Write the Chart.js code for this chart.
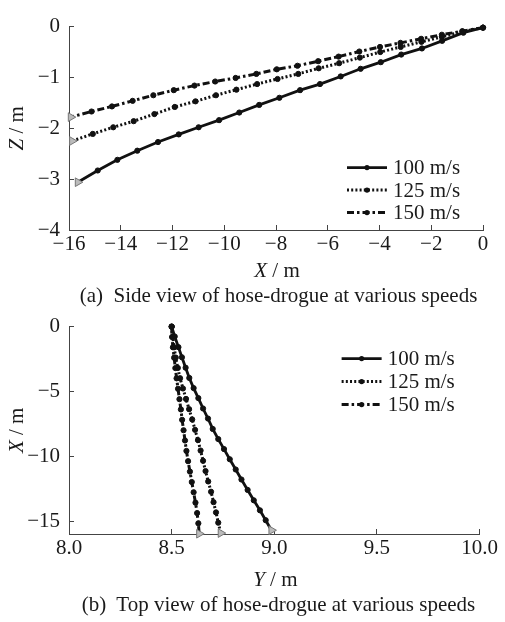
<!DOCTYPE html>
<html>
<head>
<meta charset="utf-8">
<script src="https://cdn.jsdelivr.net/npm/chart.js@4.4.0/dist/chart.umd.min.js"></script>
<style>
body { margin: 0; background: #fff; }
#wrap { position: relative; width: 505px; height: 622px; }
canvas { position: absolute; left: 0; }
.cap { position: absolute; left: 26px; width: 505px; text-align: center; line-height: 21px;
  font-family: 'Liberation Serif', serif; font-size: 21px; color: #1a1a1a; white-space: pre; }
</style>
</head>
<body>
<div id="wrap">
  <canvas id="side" width="505" height="284" style="top:0"></canvas>
  <div class="cap" style="top:285px">(a)  Side view of hose-drogue at various speeds</div>
  <canvas id="topv" width="505" height="292" style="top:300px"></canvas>
  <div class="cap" style="top:594px">(b)  Top view of hose-drogue at various speeds</div>
</div>
<script>
// hose node positions, tanker end first, drogue last
const speeds = ['100 m/s', '125 m/s', '150 m/s']

const x100 = [0, -0.76, -1.58, -2.36, -3.16, -3.95, -4.73, -5.50, -6.30, -7.07, -7.87, -8.65, -9.42, -10.20, -10.99, -11.76, -12.56, -13.36, -14.13, -14.89, -15.66]
const z100 = [-0.02, -0.12, -0.28, -0.43, -0.55, -0.70, -0.83, -0.98, -1.13, -1.25, -1.40, -1.54, -1.69, -1.84, -1.98, -2.12, -2.27, -2.44, -2.62, -2.83, -3.06]
const y100 = [8.500, 8.515, 8.533, 8.550, 8.568, 8.586, 8.607, 8.630, 8.653, 8.677, 8.700, 8.727, 8.755, 8.783, 8.812, 8.840, 8.870, 8.900, 8.930, 8.958, 8.986]

const x125 = [0, -0.79, -1.59, -2.38, -3.18, -3.97, -4.76, -5.56, -6.35, -7.14, -7.94, -8.73, -9.53, -10.32, -11.11, -11.91, -12.70, -13.50, -14.29, -15.08, -15.88]
const z125 = [-0.02, -0.10, -0.20, -0.30, -0.40, -0.50, -0.61, -0.72, -0.82, -0.93, -1.03, -1.13, -1.24, -1.35, -1.47, -1.58, -1.72, -1.86, -1.98, -2.11, -2.25]
const y125 = [8.500, 8.505, 8.512, 8.520, 8.530, 8.541, 8.555, 8.570, 8.585, 8.600, 8.614, 8.628, 8.641, 8.653, 8.665, 8.678, 8.692, 8.704, 8.716, 8.727, 8.739]

const x150 = [0, -0.80, -1.59, -2.39, -3.19, -3.98, -4.78, -5.58, -6.37, -7.17, -7.97, -8.76, -9.56, -10.35, -11.15, -11.95, -12.74, -13.54, -14.34, -15.13, -15.93]
const z150 = [-0.02, -0.09, -0.16, -0.24, -0.32, -0.40, -0.49, -0.59, -0.68, -0.77, -0.84, -0.93, -1.01, -1.08, -1.16, -1.25, -1.35, -1.46, -1.57, -1.67, -1.78]
const y150 = [8.500, 8.502, 8.506, 8.512, 8.518, 8.524, 8.531, 8.538, 8.545, 8.551, 8.558, 8.565, 8.572, 8.580, 8.589, 8.598, 8.607, 8.616, 8.624, 8.630, 8.634]

const sideTicksX = [-16, -14, -12, -10, -8, -6, -4, -2, 0]
const sideTicksZ = [0, -1, -2, -3, -4]
const topTicksY = [8.0, 8.5, 9.0, 9.5, 10.0]
const topTicksX = [0, -5, -10, -15]

const FONT = 'Liberation Serif'
const SIZE = 21
const styles = [
  { borderDash: [], borderWidth: 2.8 },
  { borderDash: [2, 2.2], borderWidth: 3 },
  { borderDash: [7, 3, 2.5, 3], borderWidth: 3 }
]

function series(i, xs, ys) {
  let last = xs.length - 1
  return {
    label: speeds[i],
    data: xs.map((x, k) => ({ x: x, y: ys[k] })),
    showLine: true,
    borderColor: '#111',
    borderWidth: styles[i].borderWidth,
    borderDash: styles[i].borderDash,
    clip: false,
    pointStyle: c => c.dataIndex === last ? 'triangle' : 'circle',
    pointRotation: c => c.dataIndex === last ? 90 : 0,
    pointRadius: c => c.dataIndex === last ? 5 : 2.6,
    pointBackgroundColor: c => c.dataIndex === last ? '#bbb' : '#111',
    pointBorderColor: c => c.dataIndex === last ? '#777' : '#111',
    pointBorderWidth: 1
  }
}

function minus(v) {
  return String(v).replace('-', '\u2212')
}

function axis(min, max, ticks, fmt, pad, fit) {
  return {
    type: 'linear', min: min, max: max,
    afterBuildTicks: s => { s.ticks = ticks.map(v => ({ value: v })) },
    afterFit: fit,
    grid: { drawOnChartArea: false, drawTicks: true, tickLength: -5, tickColor: '#444', tickWidth: 1 },
    border: { display: true, color: '#444', width: 1 },
    ticks: { padding: pad, color: '#1a1a1a', font: { family: FONT, size: SIZE }, maxRotation: 0, autoSkip: false, callback: fmt }
  }
}

function drawTitle(ctx, letter, cx, cy) {
  let it = 'italic ' + SIZE + 'px "' + FONT + '"', rm = SIZE + 'px "' + FONT + '"'
  ctx.font = it
  let w1 = ctx.measureText(letter).width
  ctx.font = rm
  let w2 = ctx.measureText(' / m').width
  let x = cx - (w1 + w2) / 2
  ctx.textBaseline = 'middle'
  ctx.textAlign = 'left'
  ctx.fillStyle = '#1a1a1a'
  ctx.font = it
  ctx.fillText(letter, x, cy)
  ctx.font = rm
  ctx.fillText(' / m', x + w1, cy)
}

const axisTitles = {
  id: 'axisTitles',
  afterDraw(chart, args, o) {
    let ctx = chart.ctx, a = chart.chartArea
    ctx.save()
    drawTitle(ctx, o.x, (a.left + a.right) / 2 + 1, o.xTitleY)
    ctx.translate(o.yTitleX, (a.top + a.bottom) / 2)
    ctx.rotate(-Math.PI / 2)
    drawTitle(ctx, o.y, 0, 0)
    ctx.restore()
  }
}

const lineLegend = {
  id: 'lineLegend',
  afterDatasetsDraw(chart, args, o) {
    let ctx = chart.ctx, a = chart.chartArea
    ctx.save()
    chart.data.datasets.forEach((ds, i) => {
      let y = a.top + o.top + i * o.gap
      let x0 = a.right - o.right, x1 = x0 + 40
      ctx.strokeStyle = '#111'
      ctx.lineWidth = ds.borderWidth
      ctx.setLineDash(ds.borderDash)
      ctx.beginPath()
      ctx.moveTo(x0, y)
      ctx.lineTo(x1, y)
      ctx.stroke()
      ctx.setLineDash([])
      ctx.fillStyle = '#111'
      ctx.beginPath()
      ctx.arc((x0 + x1) / 2, y, 2.6, 0, 2 * Math.PI)
      ctx.fill()
      ctx.fillStyle = '#1a1a1a'
      ctx.font = SIZE + 'px "' + FONT + '"'
      ctx.textBaseline = 'middle'
      ctx.textAlign = 'left'
      ctx.fillText(ds.label, x1 + 6, y + 1)
    })
    ctx.restore()
  }
}

// (a) side view
new Chart(document.querySelector('#side'), {
  type: 'scatter',
  data: {
    datasets: [series(0, x100, z100), series(1, x125, z125), series(2, x150, z150)]
  },
  options: {
    responsive: false,
    animation: false,
    events: [],
    layout: { padding: { top: 14, right: 22, left: 0, bottom: 0 } },
    scales: {
      x: axis(-16, 0, sideTicksX, minus, 7, s => { s.height = 54 }),
      y: axis(-4, 0, sideTicksZ, minus, 14, s => { s.width = 69 })
    },
    plugins: {
      legend: { display: false },
      tooltip: { enabled: false },
      axisTitles: { x: 'X', y: 'Z', xTitleY: 271, yTitleX: 17 },
      lineLegend: { top: 141, gap: 22.5, right: 136 }
    }
  },
  plugins: [axisTitles, lineLegend]
})

// (b) top view
new Chart(document.querySelector('#topv'), {
  type: 'scatter',
  data: {
    datasets: [series(0, y100, x100), series(1, y125, x125), series(2, y150, x150)]
  },
  options: {
    responsive: false,
    animation: false,
    events: [],
    layout: { padding: { top: 19, right: 20, left: 0, bottom: 0 } },
    scales: {
      x: axis(8, 10, topTicksY, v => v.toFixed(1), 7, s => { s.height = 58 }),
      y: axis(-15.95, 0, topTicksX, minus, 14, s => { s.width = 69 })
    },
    plugins: {
      legend: { display: false },
      tooltip: { enabled: false },
      axisTitles: { x: 'Y', y: 'X', xTitleY: 280, yTitleX: 17 },
      lineLegend: { top: 32, gap: 23, right: 138 }
    }
  },
  plugins: [axisTitles, lineLegend]
})
</script>
</body>
</html>
